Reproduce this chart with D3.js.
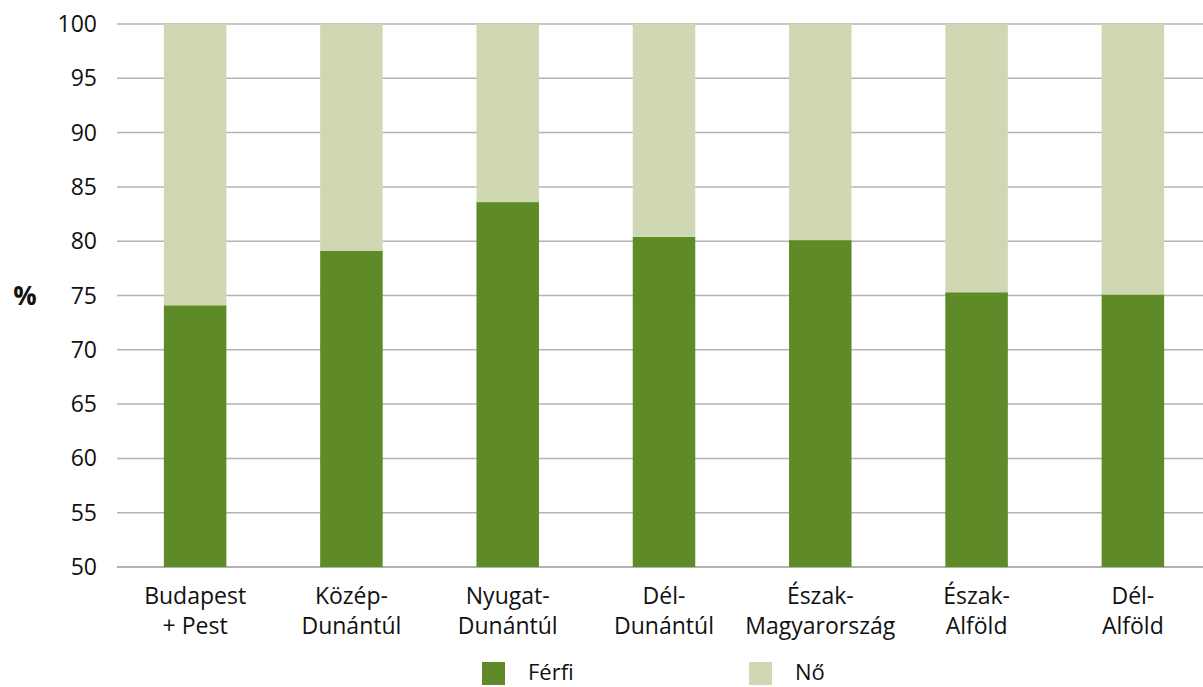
<!DOCTYPE html>
<html>
<head>
<meta charset="utf-8">
<script src="https://cdn.jsdelivr.net/npm/d3@7"></script>
<style>
  body { margin: 0; background: #fff; }
  text { font-family: "Open Sans", "Noto Sans", sans-serif; fill: #111; }
</style>
</head>
<body>
<svg id="chart" width="1203" height="687"></svg>
<script>
// regions (two-line labels)
const regions = [
  ["Budapest", "+ Pest"],
  ["Közép-", "Dunántúl"],
  ["Nyugat-", "Dunántúl"],
  ["Dél-", "Dunántúl"],
  ["Észak-", "Magyarország"],
  ["Észak-", "Alföld"],
  ["Dél-", "Alföld"]
];
// share of men, %
const ferfi = [74.1, 79.1, 83.6, 80.4, 80.1, 75.3, 75.1];
const yTicks = [50, 55, 60, 65, 70, 75, 80, 85, 90, 95, 100];
const seriesNames = ["Férfi", "Nő"];
const colors = ["#5e8a27", "#cfd8b2"];

const svg = d3.select("#chart");
const margin = { top: 24, bottom: 120, left: 117, right: -8 };
const width = 1203, height = 687;

const x = d3.scaleBand()
  .domain(d3.range(regions.length))
  .range([margin.left, width - margin.right])
  .paddingInner(0.6)
  .paddingOuter(0.3);

const y = d3.scaleLinear()
  .domain([50, 100])
  .range([height - margin.bottom, margin.top]);

// gridlines
svg.append("g")
  .selectAll("line")
  .data(yTicks)
  .join("line")
    .attr("x1", margin.left)
    .attr("x2", width)
    .attr("y1", d => y(d))
    .attr("y2", d => y(d))
    .attr("stroke", d => d === 50 ? "#999" : "#b4b4b4")
    .attr("stroke-width", 1.5);

// y tick labels
svg.append("g")
  .selectAll("text")
  .data(yTicks)
  .join("text")
    .attr("x", 97)
    .attr("y", d => y(d))
    .attr("dy", "0.35em")
    .attr("text-anchor", "end")
    .attr("font-size", 23)
    .text(d => d);

svg.append("text")
  .attr("x", 25)
  .attr("y", y(75))
  .attr("dy", "0.36em")
  .attr("text-anchor", "middle")
  .attr("font-size", 26)
  .attr("font-weight", "bold")
  .text("%");

// stacked data: men from the axis minimum, women on top up to 100
const data = ferfi.map((v, i) => ({ i, ferfi: v, no: 100 - v }));
const layers = d3.stack().keys(["ferfi", "no"])(data);
layers[0].forEach(d => { d[0] = 50; });

svg.append("g")
  .selectAll("g")
  .data(layers)
  .join("g")
    .attr("fill", (d, k) => colors[k])
  .selectAll("rect")
  .data(d => d)
  .join("rect")
    .attr("x", d => x(d.data.i))
    .attr("width", x.bandwidth())
    .attr("y", d => y(d[1]))
    .attr("height", d => y(d[0]) - y(d[1]));

// x labels
const xl = svg.append("g")
  .selectAll("text")
  .data(regions)
  .join("text")
    .attr("x", (d, i) => x(i) + x.bandwidth() / 2)
    .attr("y", 604)
    .attr("text-anchor", "middle")
    .attr("font-size", 23);
xl.selectAll("tspan")
  .data(d => d)
  .join("tspan")
    .attr("x", function() { return this.parentNode.getAttribute("x"); })
    .attr("dy", (d, k) => k === 0 ? 0 : 30)
    .text(d => d);

// legend
const legendX = [482, 749];
const lg = svg.append("g")
  .selectAll("g")
  .data(seriesNames)
  .join("g")
    .attr("transform", (d, i) => `translate(${legendX[i]}, 662)`);
lg.append("rect")
  .attr("width", 23)
  .attr("height", 23)
  .attr("fill", (d, i) => colors[i]);
lg.append("text")
  .attr("x", 46)
  .attr("y", 18)
  .attr("font-size", 22)
  .text(d => d);
</script>
</body>
</html>
